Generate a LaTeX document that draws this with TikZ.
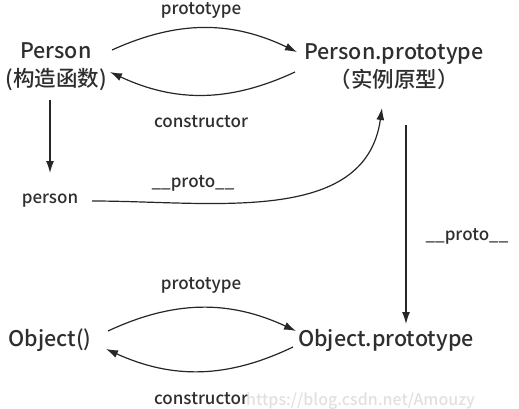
\documentclass[tikz,border=0pt]{standalone}
\usepackage{fontspec}
\setmainfont{Noto Sans CJK SC Medium}
\usepackage{tikz}
\usetikzlibrary{arrows.meta,positioning}

\definecolor{inkgray}{HTML}{2E2E2E}
\tikzset{
  big/.style={font=\fontsize{21.5}{28}\selectfont,text=inkgray,align=center,inner sep=2pt},
  lbl/.style={font=\fontsize{17}{20}\selectfont,text=inkgray,inner sep=1pt},
  link/.style={draw=black!85,line width=1.2pt,-{Latex[length=12pt,width=8pt]}}
}

\begin{document}
\begin{tikzpicture}[x=1pt,y=-1pt]
      \useasboundingbox (0,0) rectangle (519,409);
      \node[big] (person) at (56,67) {Person\\(构造函数)};
      \node[big] (pproto) at (394,67) {Person.prototype\\（实例原型）};
      \node[lbl] (inst) at (50,201) {person};
      \node[big] (obj) at (50,340) {Object()};
      \node[big] (oproto) at (386,340) {Object.prototype};
      \node[lbl] at (201,10) {prototype};
      \node[lbl] at (201,122) {constructor};
      \node[lbl] at (193,183) {\_\_proto\_\_};
      \node[lbl] at (467,236) {\_\_proto\_\_};
      \node[lbl] at (201,285) {prototype};
      \node[lbl] at (201,399) {constructor};
      \node[font=\fontsize{16}{18}\selectfont,text=black!12,anchor=west,inner sep=0pt] at (246,401) {https://blog.csdn.net/Amouzy};
      \path[every edge/.style={link}]
      ([shift={(56,-17)}]person.center) edge [bend left=25] ([shift={(-97,-15)}]pproto.center)
      ([shift={(-99,5)}]pproto.center) edge [bend left=25] ([shift={(54,5)}]person.center)
      ([shift={(-6,33)}]person.center) edge ([shift={(0,-28)}]inst.center)
      ([xshift=42]inst.center) edge [out=0,in=-98] ([shift={(-12,41)}]pproto.center)
      ([shift={(12,58)}]pproto.center) edge ([shift={(20,-16)}]oproto.center)
      ([shift={(58,-9)}]obj.center) edge [bend left=25] ([shift={(-90,-9)}]oproto.center)
      ([shift={(-93,7)}]oproto.center) edge [bend left=25] ([shift={(56,9)}]obj.center);
    \end{tikzpicture}
\end{document}
